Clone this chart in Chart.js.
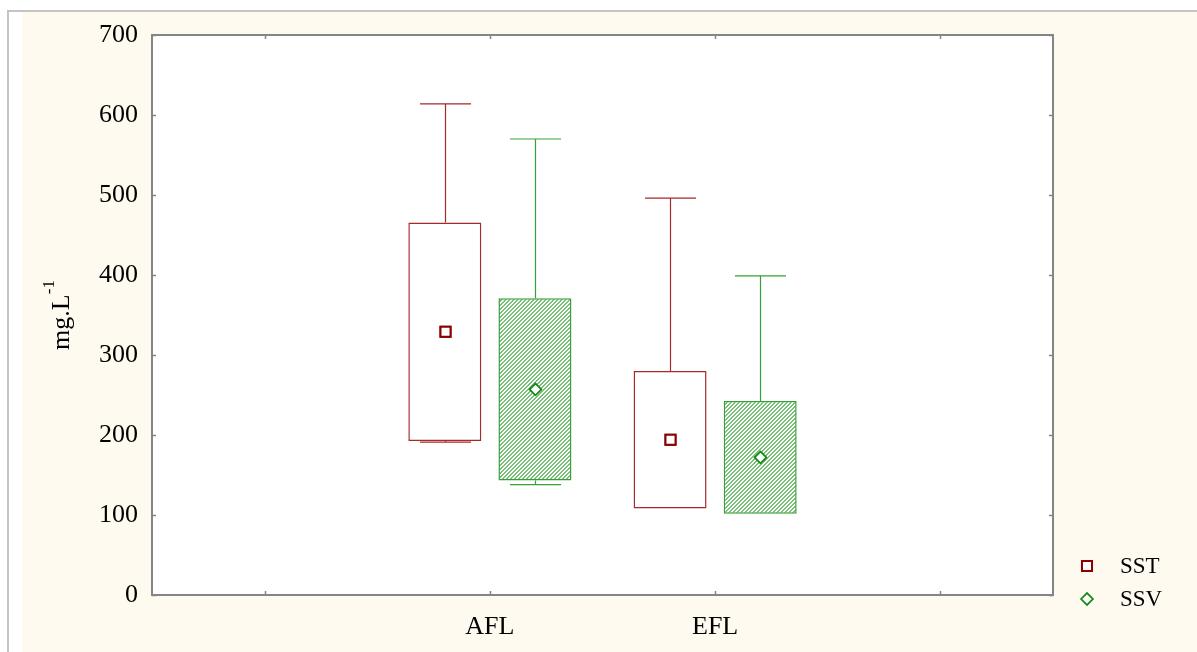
<!DOCTYPE html>
<html>
<head>
<meta charset="utf-8">
<script src="https://cdn.jsdelivr.net/npm/chart.js@4.4.1/dist/chart.umd.min.js"></script>
<style>
  html, body { margin: 0; padding: 0; background: #ffffff; width: 1197px; height: 652px; overflow: hidden; }
  #frame {
    position: absolute; left: 7px; top: 10px; width: 1200px; height: 650px;
    border-left: 2px solid #c4c4c4; border-top: 2px solid #c4c4c4;
    background: linear-gradient(to right, #ffffff 0, #ffffff 13px, #fffaf0 13px);
  }
  #wrap { position: absolute; left: 0; top: 0; width: 1197px; height: 652px; }
</style>
</head>
<body>
<div id="frame"></div>
<div id="wrap"><canvas id="c" width="1197" height="652"></canvas></div>
<script>
// Sampling sites and the axis labels (blank slots pad both sides)
const groups = ['AFL', 'EFL'];
const axisLabels = ['', 'AFL', 'EFL', ''];
const seriesNames = ['SST', 'SSV'];

// Suspended solids (mg/L): mean, standard deviation, min and max per site
const sstMean = [329, 194];
const sstSd   = [136.5, 86];
const sstMin  = [191, 108];
const sstMax  = [614, 496];

const ssvMean = [257, 172];
const ssvSd   = [114, 70.5];
const ssvMin  = [138, 101.5];
const ssvMax  = [570, 399];

const yMin = 0, yMax = 700, yStep = 100;

const RED = '#a52a2a';
const RED_DARK = '#8b0000';
const GREEN = '#35a035';
const GREEN_DARK = '#158a15';
const SERIF = '"Liberation Serif", "Times New Roman", serif';

// Fine diagonal hatch for the SSV boxes
function hatchPattern() {
  const tile = document.createElement('canvas');
  tile.width = 4; tile.height = 4;
  const t = tile.getContext('2d');
  t.fillStyle = '#ffffff';
  t.fillRect(0, 0, 4, 4);
  t.fillStyle = '#78c078';
  for (let x = 0; x < 4; x++) {
    for (let y = 0; y < 4; y++) {
      if ((x + y) % 4 < 2) t.fillRect(x, y, 1, 1);
    }
  }
  return document.getElementById('c').getContext('2d').createPattern(tile, 'repeat');
}

function boxData(mean, sd) {
  return axisLabels.map(l => {
    const i = groups.indexOf(l);
    return i < 0 ? null : [mean[i] - sd[i], mean[i] + sd[i]];
  });
}

const series = [
  { label: seriesNames[0], mean: sstMean, sd: sstSd, min: sstMin, max: sstMax,
    line: RED, marker: RED_DARK, pointStyle: 'rect', radius: 7.1, markerWidth: 2, fill: '#ffffff' },
  { label: seriesNames[1], mean: ssvMean, sd: ssvSd, min: ssvMin, max: ssvMax,
    line: GREEN, marker: GREEN_DARK, pointStyle: 'rectRot', radius: 5.8, markerWidth: 1.6, fill: hatchPattern() }
];

// Whiskers, means, frame, inward ticks, legend and axis title
const boxPlotExtras = {
  id: 'boxPlotExtras',
  beforeDatasetsDraw(chart) {
    const { ctx, chartArea: a } = chart;
    ctx.save();
    ctx.fillStyle = '#ffffff';
    ctx.fillRect(a.left, a.top, a.right - a.left, a.bottom - a.top);
    ctx.restore();
  },
  afterDatasetsDraw(chart) {
    const { ctx, chartArea: a, scales } = chart;
    const ys = scales.y, xs = scales.x;
    ctx.save();

    // whiskers and mean markers
    series.forEach((s, d) => {
      const meta = chart.getDatasetMeta(d);
      meta.data.forEach((bar, j) => {
        const i = groups.indexOf(axisLabels[j]);
        if (i < 0) return;
        const { x, width } = bar.getProps(['x', 'width'], true);
        const cap = width * 0.7;
        const hi = ys.getPixelForValue(s.mean[i] + s.sd[i]);
        const lo = ys.getPixelForValue(s.mean[i] - s.sd[i]);
        const pMax = ys.getPixelForValue(s.max[i]);
        const pMin = ys.getPixelForValue(s.min[i]);
        const cx = Math.round(x) + 0.5;
        ctx.strokeStyle = s.line;
        ctx.lineWidth = 1.2;
        ctx.beginPath();
        ctx.moveTo(cx, hi); ctx.lineTo(cx, pMax);
        ctx.moveTo(cx - cap / 2, pMax); ctx.lineTo(cx + cap / 2, pMax);
        if (pMin > lo + 0.5) {
          ctx.moveTo(cx, lo); ctx.lineTo(cx, pMin);
          ctx.moveTo(cx - cap / 2, pMin); ctx.lineTo(cx + cap / 2, pMin);
        }
        ctx.stroke();
        ctx.fillStyle = '#ffffff';
        ctx.strokeStyle = s.marker;
        ctx.lineWidth = s.markerWidth;
        Chart.helpers.drawPoint(ctx, { pointStyle: s.pointStyle, radius: s.radius, borderWidth: s.markerWidth },
          cx, ys.getPixelForValue(s.mean[i]));
        ctx.fill();
        ctx.stroke();
      });
    });

    // plot frame
    ctx.strokeStyle = '#858585';
    ctx.lineWidth = 2;
    ctx.strokeRect(a.left, a.top, a.right - a.left, a.bottom - a.top);

    // inward tick marks on all four sides
    const tl = 4;
    ctx.lineWidth = 1.5;
    ctx.beginPath();
    ys.ticks.forEach((t, k) => {
      const p = Math.round(ys.getPixelForTick(k)) + 0.5;
      ctx.moveTo(a.left, p); ctx.lineTo(a.left + tl, p);
      ctx.moveTo(a.right, p); ctx.lineTo(a.right - tl, p);
    });
    xs.ticks.forEach((t, k) => {
      const p = Math.round(xs.getPixelForTick(k)) + 0.5;
      ctx.moveTo(p, a.top); ctx.lineTo(p, a.top + tl);
      ctx.moveTo(p, a.bottom); ctx.lineTo(p, a.bottom - tl);
    });
    ctx.stroke();

    // legend
    series.forEach((s, d) => {
      const ly = a.bottom - 29 + d * 33;
      ctx.fillStyle = '#ffffff';
      ctx.strokeStyle = s.marker;
      ctx.lineWidth = s.markerWidth;
      Chart.helpers.drawPoint(ctx, { pointStyle: s.pointStyle, radius: s.radius, borderWidth: s.markerWidth },
        a.right + 34, ly);
      ctx.fill();
      ctx.stroke();
      ctx.fillStyle = '#000000';
      ctx.font = '23px ' + SERIF;
      ctx.textAlign = 'left';
      ctx.textBaseline = 'middle';
      ctx.fillText(s.label, a.right + 67, ly + 1);
    });

    // y-axis title with superscript
    const main = 'mg.L', sup = '-1';
    const mainFont = '26px ' + SERIF, supFont = '17px ' + SERIF;
    ctx.font = mainFont;
    const wMain = ctx.measureText(main).width;
    ctx.font = supFont;
    const wSup = ctx.measureText(sup).width;
    const total = wMain + wSup;
    ctx.translate(69, (a.top + a.bottom) / 2);
    ctx.rotate(-Math.PI / 2);
    ctx.fillStyle = '#000000';
    ctx.textAlign = 'left';
    ctx.textBaseline = 'alphabetic';
    ctx.font = mainFont;
    ctx.fillText(main, -total / 2, 0);
    ctx.font = supFont;
    ctx.fillText(sup, -total / 2 + wMain, -15);
    ctx.restore();
  }
};

new Chart(document.getElementById('c'), {
  type: 'bar',
  data: {
    labels: axisLabels,
    datasets: series.map(s => ({
      label: s.label,
      data: boxData(s.mean, s.sd),
      backgroundColor: s.fill,
      borderColor: s.line,
      borderWidth: 1.5,
      borderSkipped: false,
      categoryPercentage: 0.8,
      barPercentage: 0.81
    }))
  },
  options: {
    responsive: false,
    animation: false,
    devicePixelRatio: 1,
    layout: { padding: { left: 0, top: 35, right: 144, bottom: 0 } },
    plugins: { legend: { display: false }, tooltip: { enabled: false } },
    scales: {
      x: {
        grid: { display: false, drawTicks: false },
        border: { display: false },
        ticks: { color: '#000000', font: { family: SERIF, size: 26 }, padding: 17, autoSkip: false, maxRotation: 0 },
        afterFit(scale) { scale.height = 57; }
      },
      y: {
        min: yMin, max: yMax,
        grid: { display: false, drawTicks: false },
        border: { display: false },
        ticks: { stepSize: yStep, color: '#000000', font: { family: SERIF, size: 26 }, padding: 14 },
        afterFit(scale) { scale.width = 152; }
      }
    }
  },
  plugins: [boxPlotExtras]
});
</script>
</body>
</html>
